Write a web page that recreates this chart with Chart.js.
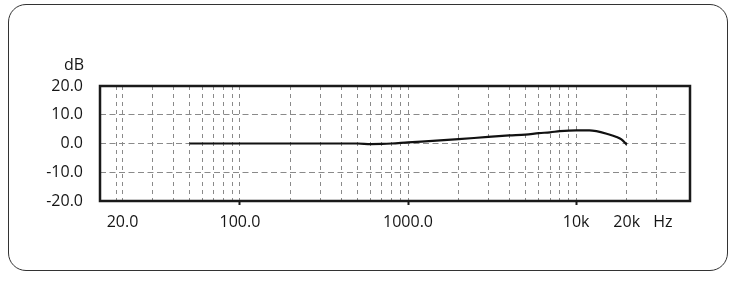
<!DOCTYPE html>
<html>
<head>
<meta charset="utf-8">
<script src="https://cdn.jsdelivr.net/npm/chart.js@4.4.1/dist/chart.umd.min.js"></script>
<style>
    html, body { margin: 0; padding: 0; background: #fff; }
    #wrap { position: relative; width: 733px; height: 285px; }
    #box {
        position: absolute; left: 8px; top: 4px; width: 720px; height: 267px;
        box-sizing: border-box; border: 1.5px solid #333; border-radius: 18px;
    }
    canvas { position: absolute; left: 0; top: 0; }
</style>
</head>
<body>
<div id="wrap">
    <div id="box"></div>
    <canvas id="response-chart" width="733" height="285"></canvas>
</div>
<script>
// 주파수 응답 데이터 (Hz / dB)
const freqs  = [50, 100, 200, 300, 500, 600, 700, 800, 1000, 1400, 2000, 3000, 4000, 5000, 6000, 7000, 8000, 10000, 12000, 13200, 15200, 17400, 18600, 20000];
const levels = [0, 0, 0, 0, 0, -0.2, -0.15, 0, 0.4, 0.9, 1.5, 2.3, 2.8, 3.1, 3.6, 3.9, 4.3, 4.6, 4.6, 4.3, 3.4, 2.3, 1.4, -0.4];

// 세로 격자선 위치
const gridFreqs = [18.5, 20, 30, 40, 50, 60, 70, 80, 90,
                   100, 200, 300, 400, 500, 600, 700, 800, 900,
                   1000, 2000, 3000, 4000, 5000, 6000, 7000, 8000, 9000,
                   10000, 20000, 30000];
const xLabelValues = [20, 100, 1000, 10000, 20000, 32800];
const xLabelTexts  = ['20.0', '100.0', '1000.0', '10k', '20k', 'Hz'];
const markedFreqs  = [100, 1000, 10000]; // 축 아래 눈금 표시
const yTicks = [-20, -10, 0, 10, 20];
const yUnit = 'dB';

const FONT = { family: "'Open Sans', sans-serif", size: 16 };
const GRID_GRAY = '#8a8a8a';
const TEXT_COLOR = '#151515';

const allX = Array.from(new Set(gridFreqs.concat(xLabelValues))).sort((a, b) => a - b);

const framePlugin = {
    id: 'frame',
    afterDraw(chart) {
        const { ctx, chartArea: a } = chart;
        ctx.save();
        ctx.strokeStyle = '#1a1a1a';
        ctx.lineWidth = 2.5;
        ctx.strokeRect(a.left, a.top, a.right - a.left, a.bottom - a.top);
        ctx.fillStyle = TEXT_COLOR;
        ctx.font = `${FONT.size}px ${FONT.family}`;
        ctx.textAlign = 'right';
        ctx.textBaseline = 'middle';
        ctx.fillText(yUnit, a.left - 16, a.top - 21);
        ctx.restore();
    }
};

new Chart(document.getElementById('response-chart'), {
    type: 'line',
    data: {
        datasets: [{
            data: freqs.map((f, i) => ({ x: f, y: levels[i] })),
            borderColor: '#111',
            borderWidth: 2.2,
            pointRadius: 0,
            cubicInterpolationMode: 'monotone',
            fill: false
        }]
    },
    options: {
        responsive: false,
        animation: false,
        layout: { padding: { top: 86, right: 43, left: 0, bottom: 0 } },
        plugins: { legend: { display: false }, tooltip: { enabled: false } },
        scales: {
            x: {
                type: 'logarithmic',
                min: 14.7,
                max: 47600,
                afterFit: scale => { scale.height = 84; },
                afterBuildTicks: scale => {
                    scale.ticks = allX.map(v => ({ value: v }));
                },
                border: { display: false, dash: [4, 4] },
                grid: {
                    color: ctx => (ctx.tick && gridFreqs.includes(ctx.tick.value)) ? GRID_GRAY : 'transparent',
                    lineWidth: 1,
                    tickLength: 4,
                    tickWidth: 2,
                    tickColor: ctx => (ctx.tick && markedFreqs.includes(ctx.tick.value)) ? '#1a1a1a' : 'transparent'
                },
                ticks: {
                    autoSkip: false,
                    maxRotation: 0,
                    padding: 8,
                    color: TEXT_COLOR,
                    font: FONT,
                    callback: value => {
                        const i = xLabelValues.indexOf(value);
                        return i >= 0 ? xLabelTexts[i] : '';
                    }
                }
            },
            y: {
                min: -20,
                max: 20,
                afterFit: scale => { scale.width = 100; },
                afterBuildTicks: scale => {
                    scale.ticks = yTicks.map(v => ({ value: v }));
                },
                border: { display: false, dash: [6, 3.5] },
                grid: {
                    color: ctx => (ctx.tick && Math.abs(ctx.tick.value) < 20) ? GRID_GRAY : 'transparent',
                    lineWidth: 1,
                    drawTicks: false
                },
                ticks: {
                    padding: 17,
                    color: TEXT_COLOR,
                    font: FONT,
                    callback: value => Number(value).toFixed(1)
                }
            }
        }
    },
    plugins: [framePlugin]
});
</script>
</body>
</html>
